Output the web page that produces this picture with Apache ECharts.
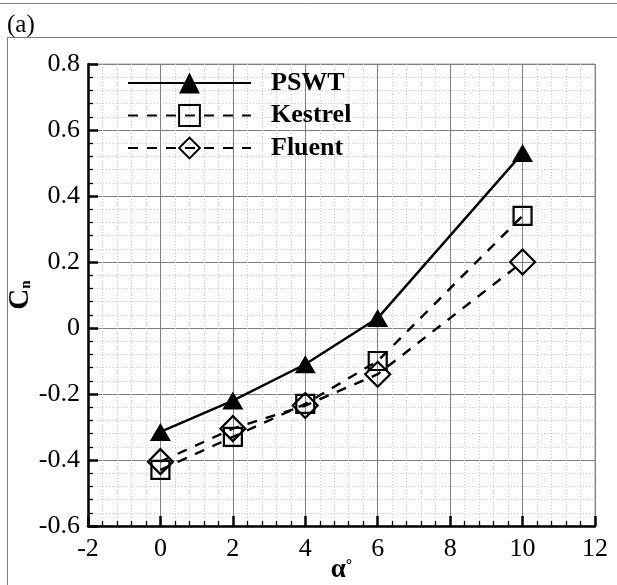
<!DOCTYPE html>
<html>
<head>
<meta charset="utf-8">
<title>Cn vs angle of attack</title>
<script src="https://cdn.jsdelivr.net/npm/echarts@6/dist/echarts.min.js"></script>
<style>
  html, body { margin: 0; padding: 0; background: #fff; }
  #chart { width: 617px; height: 585px; }
</style>
</head>
<body>
<div id="chart"></div>
<script>
// Angle of attack (deg) for each run
const alpha = [0, 2, 4, 6, 10];

// Normal-force coefficient Cn per data source
const cnPSWT = [-0.315, -0.22, -0.11, 0.03, 0.53];
const cnKestrel = [-0.43, -0.33, -0.23, -0.10, 0.34];
const cnFluent = [-0.405, -0.305, -0.235, -0.14, 0.20];

const seriesNames = ['PSWT', 'Kestrel', 'Fluent'];

const serif = '"Liberation Serif", "Times New Roman", serif';

function pairs(xs, ys) {
  return xs.map((x, i) => [x, ys[i]]);
}

const chart = echarts.init(document.getElementById('chart'), null, { renderer: 'canvas' });

const axisCommon = {
  nameMoveOverlap: false,
  axisLine: { show: true, onZero: false, lineStyle: { color: '#000', width: 2.5 } },
  axisTick: { show: true, inside: true, length: 10, lineStyle: { color: '#000', width: 2.5 } },
  minorTick: { show: true, splitNumber: 5, length: 5, lineStyle: { color: '#000', width: 1.3 } },
  splitLine: { show: true, lineStyle: { color: '#808080', width: 1 } },
  minorSplitLine: { show: true, lineStyle: { color: '#cfcfcf', width: 1, type: [1, 2] } }
};

const hollow = { color: 'rgba(255,255,255,0)', borderColor: '#000', borderWidth: 2.2 };

chart.setOption({
  animation: false,
  backgroundColor: '#fff',
  grid: {
    left: 88, right: 22, top: 64, bottom: 59,
    show: true, borderColor: '#9a9a9a', borderWidth: 1,
    outerBoundsMode: 'none'
  },
  legend: {
    orient: 'vertical',
    left: 127,
    top: 70,
    padding: 0,
    itemWidth: 123,
    itemHeight: 26,
    itemGap: 6.5,
    data: seriesNames,
    textStyle: {
      fontFamily: serif, fontWeight: 'bold', fontSize: 26, color: '#000',
      padding: [0, 0, 0, 15]
    }
  },
  xAxis: Object.assign({
    type: 'value',
    min: -2, max: 12, interval: 2,
    name: '{a|α}{d|°}',
    nameLocation: 'middle',
    nameGap: 32,
    nameTextStyle: {
      rich: {
        a: { fontFamily: serif, fontWeight: 'bold', fontSize: 27, color: '#000', lineHeight: 26, verticalAlign: 'bottom' },
        d: { fontFamily: serif, fontWeight: 'bold', fontSize: 16, color: '#000', lineHeight: 26, verticalAlign: 'top' }
      }
    },
    axisLabel: {
      margin: 10, color: '#000', fontFamily: serif, fontSize: 26,
      showMinLabel: true, showMaxLabel: true
    }
  }, axisCommon),
  yAxis: Object.assign({
    type: 'value',
    min: -0.6, max: 0.8, interval: 0.2,
    name: '{c|C}{n|n}',
    nameLocation: 'middle',
    nameRotate: 90,
    nameGap: 54,
    nameTextStyle: {
      rich: {
        c: { fontFamily: serif, fontWeight: 'bold', fontSize: 29, color: '#000', lineHeight: 28, verticalAlign: 'top' },
        n: { fontFamily: serif, fontWeight: 'bold', fontSize: 15, color: '#000', lineHeight: 2, verticalAlign: 'bottom' }
      }
    },
    axisLabel: {
      margin: 8, color: '#000', fontFamily: serif, fontSize: 26,
      showMinLabel: true, showMaxLabel: true,
      formatter: v => String(+v.toFixed(1))
    }
  }, axisCommon),
  series: [
    {
      name: seriesNames[0],
      type: 'line',
      data: pairs(alpha, cnPSWT),
      symbol: 'triangle',
      symbolSize: [21, 18],
      itemStyle: { color: '#000' },
      lineStyle: { color: '#000', width: 2.4 },
      z: 3
    },
    {
      name: seriesNames[1],
      type: 'line',
      data: pairs(alpha, cnKestrel),
      symbol: 'rect',
      symbolSize: 18,
      itemStyle: hollow,
      lineStyle: { color: '#000', width: 2.4, type: [10, 9] },
      z: 2
    },
    {
      name: seriesNames[2],
      type: 'line',
      data: pairs(alpha, cnFluent),
      symbol: 'diamond',
      symbolSize: 25,
      itemStyle: hollow,
      lineStyle: { color: '#000', width: 2.4, type: [10, 9] },
      z: 2
    }
  ],
  graphic: [
    { type: 'line', shape: { x1: 0, y1: 3.5, x2: 617, y2: 3.5 }, style: { stroke: '#808080', lineWidth: 1 } },
    { type: 'line', shape: { x1: 7, y1: 37.5, x2: 617, y2: 37.5 }, style: { stroke: '#808080', lineWidth: 1 } },
    { type: 'line', shape: { x1: 7.5, y1: 37, x2: 7.5, y2: 585 }, style: { stroke: '#808080', lineWidth: 1 } },
    {
      type: 'text', left: 7, top: 13,
      style: { text: '(a)', fontFamily: serif, fontSize: 25, fill: '#000' }
    }
  ]
});
</script>
</body>
</html>
